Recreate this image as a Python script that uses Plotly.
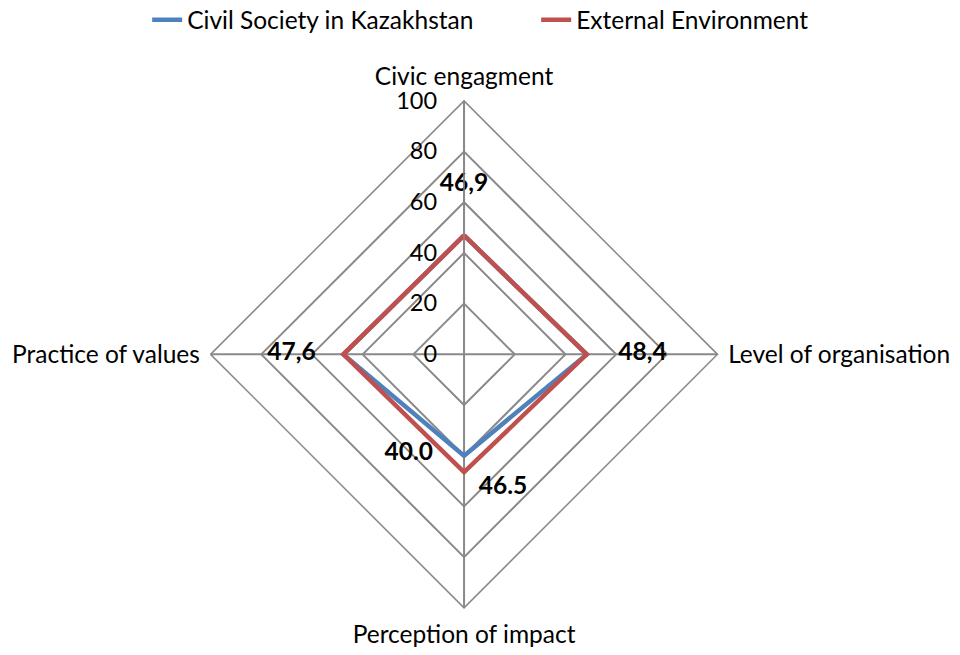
import plotly.graph_objects as go

categories = ["Civic engagment", "Level of organisation", "Perception of impact", "Practice of values"]
civil_society = [46.9, 48.4, 40.0, 47.6]
external_env = [46.9, 48.4, 46.5, 47.6]
value_labels = ["46,9", "48,4", "40.0", "46.5", "47,6"]
radial_ticks = [0, 20, 40, 60, 80, 100]

BLUE = "#4F81BD"
RED = "#C0504D"
GRID = "#898989"
FONT = "Lato"
FS = 24.5

fig = go.Figure()

def closed(v):
    return list(v) + [v[0]]

fig.add_trace(go.Scatterpolar(
    r=closed(civil_society), theta=closed(categories), mode="lines",
    line=dict(color=BLUE, width=4.5), name="Civil Society in Kazakhstan"))
fig.add_trace(go.Scatterpolar(
    r=closed(external_env), theta=closed(categories), mode="lines",
    line=dict(color=RED, width=4.5), name="External Environment"))

lab_font = dict(family=FONT, size=FS, color="black", weight="bold")

# data labels (positioned relative to the data values)
fig.add_trace(go.Scatterpolar(
    r=[external_env[0] + 20, external_env[1] + 22, external_env[3] + 20.5],
    theta=[categories[0], categories[1], categories[3]],
    mode="text", text=[value_labels[0], value_labels[1], value_labels[4]],
    textposition="middle center", textfont=lab_font,
    showlegend=False, hoverinfo="skip"))
fig.add_trace(go.Scatterpolar(
    r=[civil_society[2] - 0.9], theta=[categories[2]],
    mode="markers+text", text=[value_labels[2]], textposition="middle left",
    marker=dict(size=48, opacity=0), textfont=lab_font,
    showlegend=False, hoverinfo="skip"))
fig.add_trace(go.Scatterpolar(
    r=[external_env[2] + 6.1], theta=[categories[2]],
    mode="markers+text", text=[value_labels[3]], textposition="middle right",
    marker=dict(size=22, opacity=0), textfont=lab_font,
    showlegend=False, hoverinfo="skip"))

fig.update_layout(
    width=960, height=655,
    paper_bgcolor="white", plot_bgcolor="white",
    margin=dict(l=0, r=0, t=0, b=0, autoexpand=False),
    font=dict(family=FONT, size=FS, color="black"),
    showlegend=True,
    legend=dict(orientation="h", x=0.1533, xanchor="left", y=1.004, yanchor="top",
                font=dict(family=FONT, size=FS), entrywidth=344, entrywidthmode="pixels"),
    polar=dict(
        domain=dict(x=[0.21875, 0.748], y=[0.072, 0.846]),
        bgcolor="white",
        gridshape="linear",
        radialaxis=dict(range=[0, 100], tickvals=radial_ticks, angle=90,
                        showline=True, linecolor=GRID, linewidth=1.5,
                        gridcolor=GRID, gridwidth=1.5,
                        ticks="outside", ticklen=18, tickcolor="rgba(0,0,0,0)",
                        tickfont=dict(family=FONT, size=FS - 1), tickangle=90,
                        side="counterclockwise"),
        angularaxis=dict(direction="clockwise", rotation=90,
                         categoryorder="array", categoryarray=categories,
                         showline=True, linecolor=GRID, linewidth=1.5,
                         gridcolor=GRID, gridwidth=1.5,
                         ticks="outside", ticklen=5, tickcolor="rgba(0,0,0,0)",
                         tickfont=dict(family=FONT, size=FS)),
    ),
)

fig.write_html("out.html", config={"displayModeBar": False},
               post_script="document.body.style.margin='0';document.body.style.overflow='hidden';")
